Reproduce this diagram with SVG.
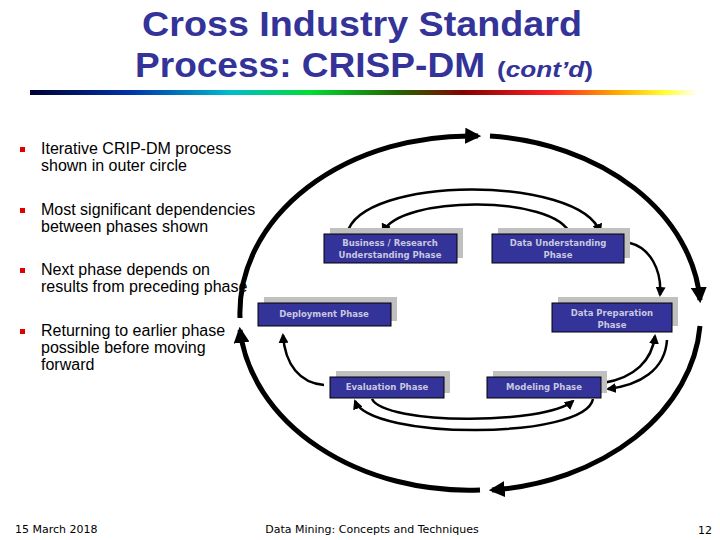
<svg xmlns="http://www.w3.org/2000/svg" width="720" height="540" viewBox="0 0 720 540">
<defs>
<linearGradient id="rb" x1="0" x2="1" y1="0" y2="0">
<stop offset="0" stop-color="#000033"/><stop offset="0.15" stop-color="#0033aa"/><stop offset="0.3" stop-color="#00bbcc"/><stop offset="0.42" stop-color="#00dd33"/><stop offset="0.55" stop-color="#226600"/><stop offset="0.65" stop-color="#880000"/><stop offset="0.78" stop-color="#ff2222"/><stop offset="0.88" stop-color="#ffaa00"/><stop offset="0.95" stop-color="#ffff33"/><stop offset="1" stop-color="#ffffff"/>
</linearGradient>
<marker id="big" viewBox="0 0 10 10" refX="8" refY="5" markerWidth="3.2" markerHeight="3.2" orient="auto"><path d="M0,0 L10,5 L0,10 z" fill="#000"/></marker>
<marker id="sm" viewBox="0 0 10 10" refX="8" refY="5" markerWidth="4" markerHeight="4" orient="auto"><path d="M0,0 L10,5 L0,10 z" fill="#000"/></marker>
</defs>
<style>
.t{font-family:"Liberation Sans",Arial,sans-serif;font-weight:bold;fill:#333399}
.b{font-family:"Liberation Sans",Arial,sans-serif;font-size:16px;fill:#000}
.f{font-family:"DejaVu Sans",Verdana,sans-serif;font-size:11px;fill:#000}
.box{fill:#333399;stroke:#000;stroke-width:1}
.sh{fill:#c0c0c0}
.bt{font-family:"DejaVu Sans",Verdana,sans-serif;font-size:8.5px;font-weight:bold;fill:#c8c8e0;text-anchor:middle}
.ob{fill:none;stroke:#000;stroke-width:5;marker-end:url(#big)}
.ia{fill:none;stroke:#000;stroke-width:2.5;marker-end:url(#sm)}
.sq{fill:#e00000}
</style>
<rect width="720" height="540" fill="#fff"/>
<text class="t" x="362" y="36" font-size="35" text-anchor="middle" textLength="440" lengthAdjust="spacingAndGlyphs">Cross Industry Standard</text>
<text class="t" x="135" y="77" font-size="35" textLength="350" lengthAdjust="spacingAndGlyphs">Process: CRISP-DM</text>
<text class="t" x="497" y="77" font-size="22" font-weight="normal" textLength="96" lengthAdjust="spacingAndGlyphs">(<tspan font-style="italic">cont’d</tspan>)</text>
<rect x="30" y="90" width="668" height="5" fill="url(#rb)"/>
<g id="bullets">
<rect class="sq" x="20" y="147" width="5" height="5"/>
<text class="b" x="41" y="154">Iterative CRIP-DM process</text>
<text class="b" x="41" y="171">shown in outer circle</text>
<rect class="sq" x="20" y="208" width="5" height="5"/>
<text class="b" x="41" y="215">Most significant dependencies</text>
<text class="b" x="41" y="232">between phases shown</text>
<rect class="sq" x="20" y="268" width="5" height="5"/>
<text class="b" x="41" y="275">Next phase depends on</text>
<text class="b" x="41" y="292">results from preceding phase</text>
<rect class="sq" x="20" y="329" width="5" height="5"/>
<text class="b" x="41" y="336">Returning to earlier phase</text>
<text class="b" x="41" y="353">possible before moving</text>
<text class="b" x="41" y="370">forward</text>
</g>
<g id="connectors">
<path class="ob" d="M240,318 A230 177 0 0 1 478,136"/>
<path class="ob" d="M490,136 A230 177 0 0 1 700,300"/>
<path class="ob" d="M700,326 A230 177 0 0 1 492,490"/>
<path class="ob" d="M480,490 A230 177 0 0 1 240,330"/>
<path class="ia" d="M347,234 C360,175 580,175 600,232"/>
<path class="ia" d="M570,234 C555,195 400,195 383,232"/>
<path class="ia" d="M630,243 C650,248 662,270 660,295"/>
<path class="ia" d="M603,383 C635,378 652,360 655,336"/>
<path class="ia" d="M667,340 C665,370 640,385 608,389"/>
<path class="ia" d="M372,399 C385,425 545,425 573,401"/>
<path class="ia" d="M593,399 C585,440 370,440 355,401"/>
<path class="ia" d="M324,385 C300,383 285,365 283,335"/>
</g>
<g id="business"><rect class="sh" x="330" y="228" width="133" height="30"/><rect class="box" x="324" y="234" width="133" height="29"/><text class="bt" x="390" y="246">Business / Research</text><text class="bt" x="390" y="258">Understanding Phase</text></g>
<g id="dataunderstanding"><rect class="sh" x="498" y="228" width="132" height="30"/><rect class="box" x="492" y="234" width="132" height="29"/><text class="bt" x="558" y="246">Data Understanding</text><text class="bt" x="558" y="258">Phase</text></g>
<g id="deployment"><rect class="sh" x="264" y="297" width="133" height="24"/><rect class="box" x="258" y="303" width="133" height="23"/><text class="bt" x="324" y="317">Deployment Phase</text></g>
<g id="datapreparation"><rect class="sh" x="558" y="297" width="120" height="29"/><rect class="box" x="552" y="303" width="120" height="29"/><text class="bt" x="612" y="316">Data Preparation</text><text class="bt" x="612" y="328">Phase</text></g>
<g id="evaluation"><rect class="sh" x="336" y="371" width="114" height="22"/><rect class="box" x="330" y="377" width="114" height="21"/><text class="bt" x="387" y="390">Evaluation Phase</text></g>
<g id="modeling"><rect class="sh" x="493" y="371" width="114" height="22"/><rect class="box" x="487" y="377" width="114" height="21"/><text class="bt" x="544" y="390">Modeling Phase</text></g>
<text class="f" x="15" y="533">15 March 2018</text>
<text class="f" x="372" y="533" text-anchor="middle">Data Mining: Concepts and Techniques</text>
<text class="f" x="712" y="534" text-anchor="end" font-size="14">12</text>
</svg>
